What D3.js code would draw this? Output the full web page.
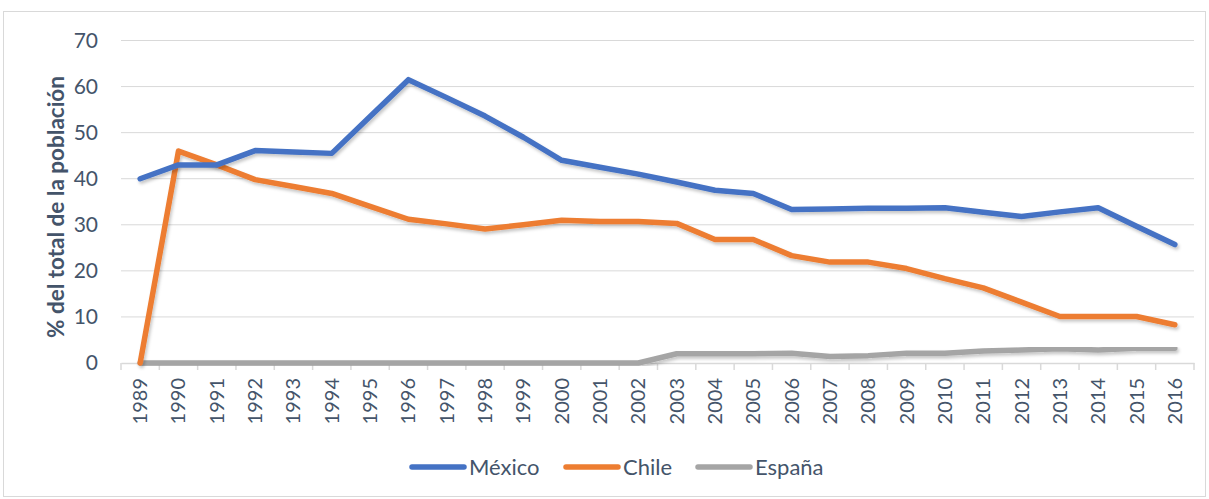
<!DOCTYPE html>
<html>
<head>
<meta charset="utf-8">
<script src="https://cdn.jsdelivr.net/npm/d3@7"></script>
<style>
  body { margin: 0; background: #fff; }
  svg { font-family: Lato, 'Open Sans', sans-serif; }
</style>
</head>
<body>
<svg id="chart" width="1209" height="499"></svg>
<script>
// data
const years = d3.range(1989, 2017).map(String)
const mexico = [40, 43, 43, 46.1, 45.8, 45.5, 53.5, 61.5, 57.6, 53.6, 49, 44, 42.5, 41, 39.3, 37.5, 36.8, 33.3, 33.4, 33.6, 33.6, 33.7, 32.7, 31.8, 32.8, 33.7, 29.7, 25.7]
const chile = [0, 46, 43, 39.8, 38.3, 36.8, 34, 31.2, 30.2, 29.1, 30, 31, 30.7, 30.7, 30.3, 26.8, 26.8, 23.3, 21.9, 21.9, 20.5, 18.3, 16.3, 13.2, 10.1, 10.1, 10.1, 8.3]
const espana = [0, 0, 0, 0, 0, 0, 0, 0, 0, 0, 0, 0, 0, 0, 2, 2, 2, 2.1, 1.4, 1.6, 2.1, 2.1, 2.6, 2.8, 3.1, 2.8, 3.2, 3.2]
const seriesNames = ['México', 'Chile', 'España']
const colors = ['#4472C4', '#ED7D31', '#A5A5A5']
const yTicks = [0, 10, 20, 30, 40, 50, 60, 70]

const series = [mexico, chile, espana]
const textColor = '#44546A'
const gridColor = '#D9D9D9'

const svg = d3.select('#chart')

// chart border
svg.append('rect')
  .attr('x', 3.5).attr('y', 11.5)
  .attr('width', 1202).attr('height', 485)
  .attr('fill', '#fff')
  .attr('stroke', '#D9D9D9')

const plotLeft = 121
const plotRight = 1194
const plotTop = 40.5
const plotBottom = 363

const x = d3.scaleBand().domain(years).range([plotLeft, plotRight])
const y = d3.scaleLinear().domain([0, 70]).range([plotBottom, plotTop])

// shadow filter
const defs = svg.append('defs')
const f = defs.append('filter').attr('id', 'shadow')
  .attr('x', '-5%').attr('y', '-5%').attr('width', '110%').attr('height', '120%')
f.append('feDropShadow')
  .attr('dx', 1.5).attr('dy', 2.5).attr('stdDeviation', 1.5)
  .attr('flood-color', '#000').attr('flood-opacity', 0.22)

// gridlines
svg.append('g')
  .selectAll('line')
  .data(yTicks.filter(d => d > 0))
  .join('line')
  .attr('x1', plotLeft).attr('x2', plotRight)
  .attr('y1', d => y(d)).attr('y2', d => y(d))
  .attr('stroke', gridColor)
  .attr('stroke-width', 1)

// y axis labels
const yAxis = svg.append('g')
  .attr('transform', 'translate(' + plotLeft + ',0)')
  .call(d3.axisLeft(y).tickValues(yTicks).tickSize(0).tickPadding(23))
yAxis.select('.domain').remove()
yAxis.selectAll('text')
  .attr('fill', textColor)
  .attr('font-size', 21)
  .attr('font-family', 'Lato, sans-serif')

// x axis
const xAxis = svg.append('g')
  .attr('transform', 'translate(0,' + plotBottom + ')')
  .call(d3.axisBottom(x).tickSize(0).tickPadding(0))
xAxis.select('.domain')
  .attr('stroke', gridColor)
  .attr('stroke-width', 1.5)
xAxis.selectAll('text')
  .attr('fill', textColor)
  .attr('font-size', 20)
  .attr('font-family', 'Lato, sans-serif')
  .attr('transform', 'rotate(-90)')
  .attr('text-anchor', 'end')
  .attr('x', -15)
  .attr('y', 0)
  .attr('dy', '0.35em')

// tick marks at band boundaries
svg.append('g')
  .selectAll('line')
  .data(years.concat(['end']))
  .join('line')
  .attr('x1', (d, i) => plotLeft + i * x.step())
  .attr('x2', (d, i) => plotLeft + i * x.step())
  .attr('y1', plotBottom)
  .attr('y2', plotBottom + 7)
  .attr('stroke', gridColor)
  .attr('stroke-width', 1.5)

// y axis title
svg.append('text')
  .text('% del total de la población')
  .attr('transform', 'translate(56,207) rotate(-90)')
  .attr('text-anchor', 'middle')
  .attr('dy', '0.35em')
  .attr('fill', textColor)
  .attr('font-size', 22.5)
  .attr('font-weight', 'bold')

// lines
const line = d3.line()
  .x((d, i) => x(years[i]) + x.bandwidth() / 2)
  .y(d => y(d))

const order = [2, 1, 0]
order.forEach(k => {
  svg.append('path')
    .datum(series[k])
    .attr('d', line)
    .attr('fill', 'none')
    .attr('stroke', colors[k])
    .attr('stroke-width', 5.5)
    .attr('stroke-linejoin', 'round')
    .attr('stroke-linecap', 'round')
    .attr('filter', 'url(#shadow)')
})

// legend
const legendX = [410, 564, 696]
const legend = svg.append('g')
seriesNames.forEach((name, i) => {
  const g = legend.append('g').attr('transform', 'translate(' + legendX[i] + ',467)')
  g.append('line')
    .attr('x1', 2).attr('x2', 54)
    .attr('y1', 0).attr('y2', 0)
    .attr('stroke', colors[i])
    .attr('stroke-width', 5.5)
    .attr('stroke-linecap', 'round')
  g.append('text')
    .text(name)
    .attr('x', 59)
    .attr('y', 0)
    .attr('dy', '0.35em')
    .attr('fill', textColor)
    .attr('font-size', 22)
})
</script>
</body>
</html>
